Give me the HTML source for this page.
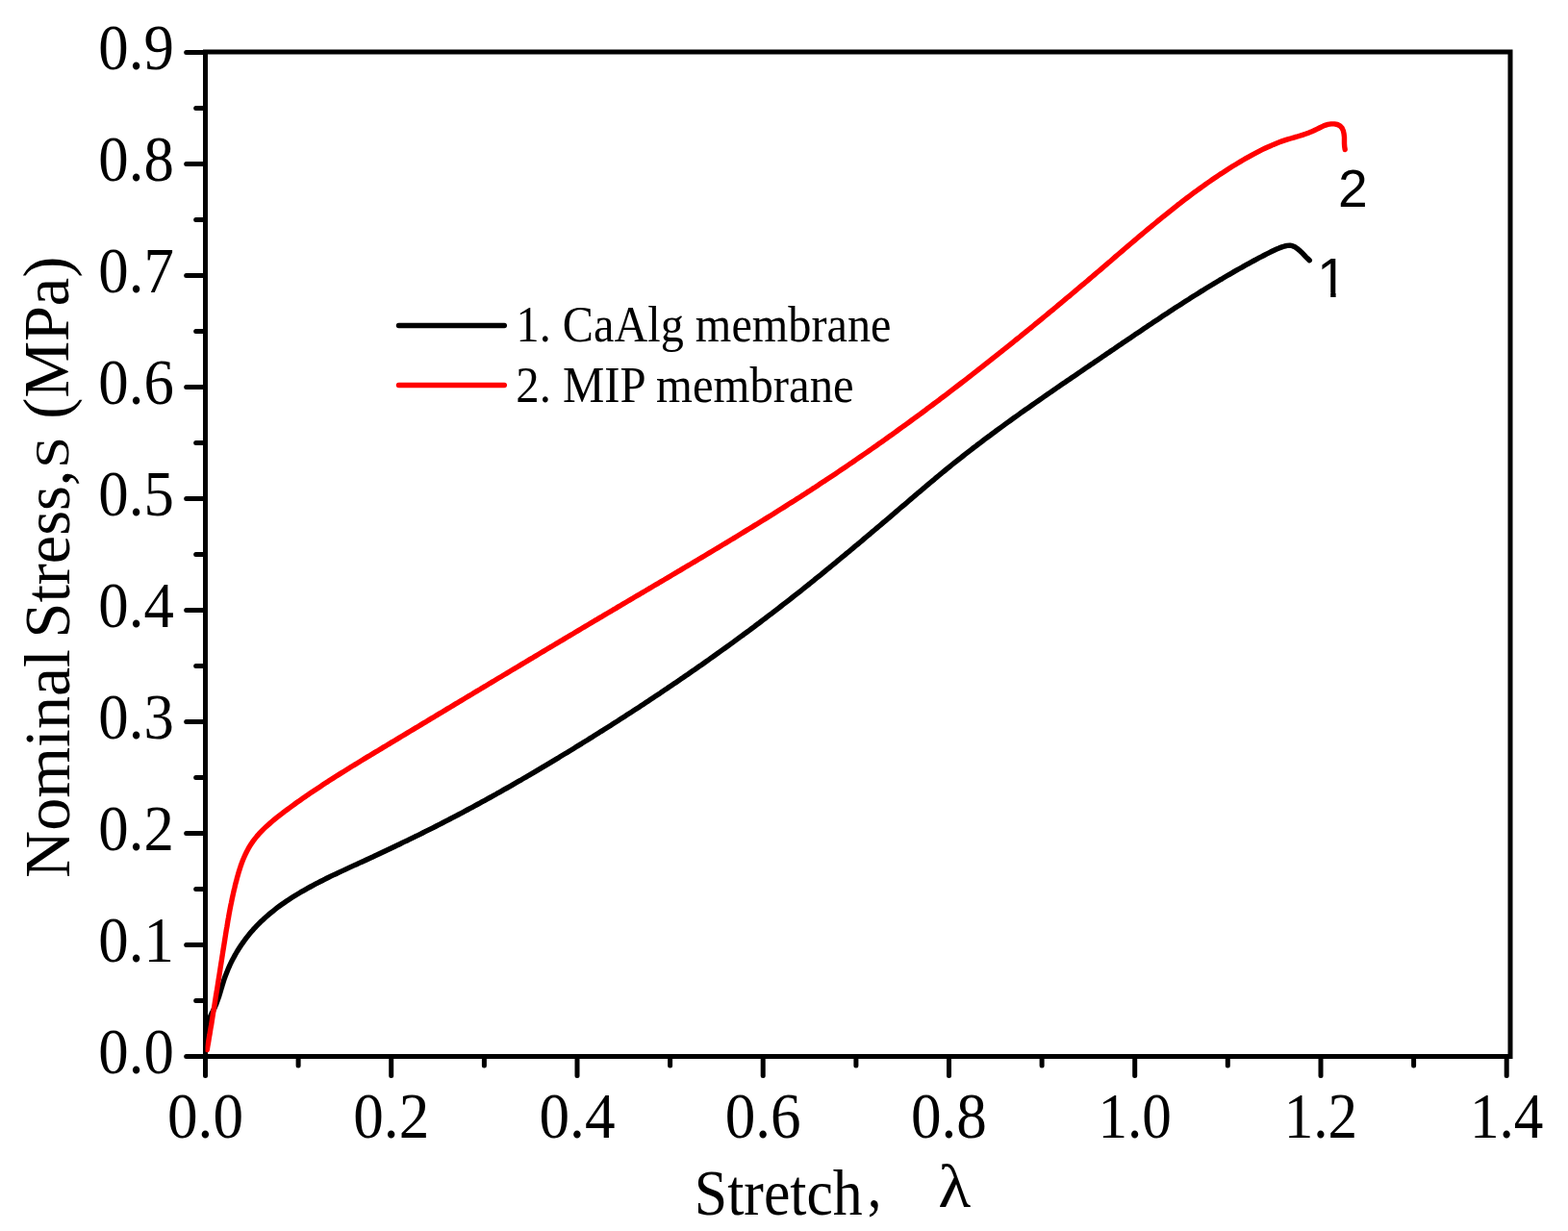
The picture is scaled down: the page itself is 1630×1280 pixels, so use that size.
<!DOCTYPE html>
<html><head><meta charset="utf-8"><style>
html,body{margin:0;padding:0;background:#fff;width:1630px;height:1280px;overflow:hidden}
svg{display:block}
.s{font-family:"Liberation Serif", "Times New Roman", serif;fill:#000}
.ss{font-family:"Liberation Sans", Arial, sans-serif;fill:#000}
</style></head><body>
<svg width="1630" height="1280" viewBox="0 0 1630 1280">
<rect width="1630" height="1280" fill="#fff"/>
<rect x="213.5" y="54.0" width="1356.5" height="1044.5" fill="none" stroke="#000" stroke-width="5.0"/>
<line x1="213.5" y1="1098.5" x2="213.5" y2="1118.5" stroke="#000" stroke-width="5.0" stroke-linecap="round"/>
<line x1="310.1" y1="1098.5" x2="310.1" y2="1108.0" stroke="#000" stroke-width="5.0" stroke-linecap="round"/>
<line x1="406.7" y1="1098.5" x2="406.7" y2="1118.5" stroke="#000" stroke-width="5.0" stroke-linecap="round"/>
<line x1="503.4" y1="1098.5" x2="503.4" y2="1108.0" stroke="#000" stroke-width="5.0" stroke-linecap="round"/>
<line x1="600.0" y1="1098.5" x2="600.0" y2="1118.5" stroke="#000" stroke-width="5.0" stroke-linecap="round"/>
<line x1="696.6" y1="1098.5" x2="696.6" y2="1108.0" stroke="#000" stroke-width="5.0" stroke-linecap="round"/>
<line x1="793.2" y1="1098.5" x2="793.2" y2="1118.5" stroke="#000" stroke-width="5.0" stroke-linecap="round"/>
<line x1="889.9" y1="1098.5" x2="889.9" y2="1108.0" stroke="#000" stroke-width="5.0" stroke-linecap="round"/>
<line x1="986.5" y1="1098.5" x2="986.5" y2="1118.5" stroke="#000" stroke-width="5.0" stroke-linecap="round"/>
<line x1="1083.1" y1="1098.5" x2="1083.1" y2="1108.0" stroke="#000" stroke-width="5.0" stroke-linecap="round"/>
<line x1="1179.7" y1="1098.5" x2="1179.7" y2="1118.5" stroke="#000" stroke-width="5.0" stroke-linecap="round"/>
<line x1="1276.3" y1="1098.5" x2="1276.3" y2="1108.0" stroke="#000" stroke-width="5.0" stroke-linecap="round"/>
<line x1="1373.0" y1="1098.5" x2="1373.0" y2="1118.5" stroke="#000" stroke-width="5.0" stroke-linecap="round"/>
<line x1="1469.6" y1="1098.5" x2="1469.6" y2="1108.0" stroke="#000" stroke-width="5.0" stroke-linecap="round"/>
<line x1="1566.2" y1="1098.5" x2="1566.2" y2="1118.5" stroke="#000" stroke-width="5.0" stroke-linecap="round"/>
<line x1="193.7" y1="1098.4" x2="213.5" y2="1098.4" stroke="#000" stroke-width="5.0" stroke-linecap="round"/>
<line x1="203.7" y1="1040.4" x2="213.5" y2="1040.4" stroke="#000" stroke-width="5.0" stroke-linecap="round"/>
<line x1="193.7" y1="982.4" x2="213.5" y2="982.4" stroke="#000" stroke-width="5.0" stroke-linecap="round"/>
<line x1="203.7" y1="924.4" x2="213.5" y2="924.4" stroke="#000" stroke-width="5.0" stroke-linecap="round"/>
<line x1="193.7" y1="866.4" x2="213.5" y2="866.4" stroke="#000" stroke-width="5.0" stroke-linecap="round"/>
<line x1="203.7" y1="808.4" x2="213.5" y2="808.4" stroke="#000" stroke-width="5.0" stroke-linecap="round"/>
<line x1="193.7" y1="750.4" x2="213.5" y2="750.4" stroke="#000" stroke-width="5.0" stroke-linecap="round"/>
<line x1="203.7" y1="692.4" x2="213.5" y2="692.4" stroke="#000" stroke-width="5.0" stroke-linecap="round"/>
<line x1="193.7" y1="634.4" x2="213.5" y2="634.4" stroke="#000" stroke-width="5.0" stroke-linecap="round"/>
<line x1="203.7" y1="576.4" x2="213.5" y2="576.4" stroke="#000" stroke-width="5.0" stroke-linecap="round"/>
<line x1="193.7" y1="518.4" x2="213.5" y2="518.4" stroke="#000" stroke-width="5.0" stroke-linecap="round"/>
<line x1="203.7" y1="460.4" x2="213.5" y2="460.4" stroke="#000" stroke-width="5.0" stroke-linecap="round"/>
<line x1="193.7" y1="402.4" x2="213.5" y2="402.4" stroke="#000" stroke-width="5.0" stroke-linecap="round"/>
<line x1="203.7" y1="344.4" x2="213.5" y2="344.4" stroke="#000" stroke-width="5.0" stroke-linecap="round"/>
<line x1="193.7" y1="286.4" x2="213.5" y2="286.4" stroke="#000" stroke-width="5.0" stroke-linecap="round"/>
<line x1="203.7" y1="228.4" x2="213.5" y2="228.4" stroke="#000" stroke-width="5.0" stroke-linecap="round"/>
<line x1="193.7" y1="170.4" x2="213.5" y2="170.4" stroke="#000" stroke-width="5.0" stroke-linecap="round"/>
<line x1="203.7" y1="112.4" x2="213.5" y2="112.4" stroke="#000" stroke-width="5.0" stroke-linecap="round"/>
<line x1="193.7" y1="54.4" x2="213.5" y2="54.4" stroke="#000" stroke-width="5.0" stroke-linecap="round"/>
<text transform="translate(180.90,1115.60) scale(0.9200,1)" font-size="68.3" class="s" text-anchor="end">0.0</text>
<text transform="translate(180.90,999.60) scale(0.9200,1)" font-size="68.3" class="s" text-anchor="end">0.1</text>
<text transform="translate(180.90,883.60) scale(0.9200,1)" font-size="68.3" class="s" text-anchor="end">0.2</text>
<text transform="translate(180.90,767.60) scale(0.9200,1)" font-size="68.3" class="s" text-anchor="end">0.3</text>
<text transform="translate(180.90,651.60) scale(0.9200,1)" font-size="68.3" class="s" text-anchor="end">0.4</text>
<text transform="translate(180.90,535.60) scale(0.9200,1)" font-size="68.3" class="s" text-anchor="end">0.5</text>
<text transform="translate(180.90,419.60) scale(0.9200,1)" font-size="68.3" class="s" text-anchor="end">0.6</text>
<text transform="translate(180.90,303.60) scale(0.9200,1)" font-size="68.3" class="s" text-anchor="end">0.7</text>
<text transform="translate(180.90,187.60) scale(0.9200,1)" font-size="68.3" class="s" text-anchor="end">0.8</text>
<text transform="translate(180.90,71.60) scale(0.9200,1)" font-size="68.3" class="s" text-anchor="end">0.9</text>
<text transform="translate(213.50,1183.40) scale(0.9250,1)" font-size="68.3" class="s" text-anchor="middle">0.0</text>
<text transform="translate(406.74,1183.40) scale(0.9250,1)" font-size="68.3" class="s" text-anchor="middle">0.2</text>
<text transform="translate(599.99,1183.40) scale(0.9250,1)" font-size="68.3" class="s" text-anchor="middle">0.4</text>
<text transform="translate(793.23,1183.40) scale(0.9250,1)" font-size="68.3" class="s" text-anchor="middle">0.6</text>
<text transform="translate(986.47,1183.40) scale(0.9250,1)" font-size="68.3" class="s" text-anchor="middle">0.8</text>
<text transform="translate(1179.71,1183.40) scale(0.8950,1)" font-size="68.3" class="s" text-anchor="middle">1.0</text>
<text transform="translate(1372.96,1183.40) scale(0.8950,1)" font-size="68.3" class="s" text-anchor="middle">1.2</text>
<text transform="translate(1566.20,1183.40) scale(0.8950,1)" font-size="68.3" class="s" text-anchor="middle">1.4</text>
<clipPath id="pc"><rect x="213.5" y="40" width="1360" height="1058.5"/></clipPath><g clip-path="url(#pc)">
<path d="M214.0 1090.0L214.4 1087.1L214.6 1084.2L214.8 1081.3L214.9 1078.3L215.0 1075.3L215.1 1072.4L215.3 1069.4L215.7 1066.5L216.2 1063.7L217.0 1060.9L218.0 1058.2L219.2 1055.5L220.6 1052.9L221.9 1050.3L223.2 1047.7L224.4 1045.0L225.4 1042.3L226.4 1039.5L227.4 1036.8L228.3 1034.0L229.1 1031.2L229.9 1028.4L230.8 1025.6L231.6 1022.8L232.5 1020.0L233.4 1017.2L234.4 1014.5L235.5 1011.7L236.6 1009.0L237.7 1006.3L238.9 1003.6L240.2 1000.9L241.5 998.3L242.9 995.7L244.3 993.1L245.8 990.5L247.3 988.0L248.9 985.5L250.5 983.0L252.2 980.6L253.9 978.2L255.6 975.9L257.4 973.6L259.2 971.3L261.1 969.1L263.0 966.9L264.9 964.8L266.9 962.7L268.9 960.7L270.9 958.6L273.0 956.7L275.1 954.7L277.3 952.8L279.4 950.9L281.6 949.1L283.9 947.3L286.1 945.5L288.4 943.7L290.7 942.0L293.1 940.3L295.4 938.7L297.8 937.0L300.2 935.4L302.7 933.8L305.1 932.3L307.6 930.7L310.1 929.2L312.6 927.7L315.1 926.3L317.7 924.8L320.2 923.4L322.8 922.0L325.4 920.6L328.0 919.2L330.6 917.8L333.2 916.5L335.9 915.2L338.5 913.8L341.2 912.5L343.8 911.2L346.5 909.9L349.2 908.7L351.9 907.4L354.6 906.1L357.3 904.9L360.0 903.6L362.6 902.4L365.3 901.1L368.0 899.9L370.7 898.7L373.4 897.4L376.1 896.2L378.8 895.0L381.5 893.7L384.2 892.5L386.9 891.3L389.5 890.0L392.2 888.8L394.9 887.5L397.5 886.3L400.2 885.0L402.8 883.8L405.5 882.5L408.1 881.3L410.8 880.0L413.4 878.7L416.0 877.5L418.6 876.2L421.3 874.9L423.9 873.7L426.5 872.4L429.1 871.1L431.7 869.8L434.3 868.6L436.9 867.3L439.5 866.0L442.1 864.7L444.7 863.4L447.3 862.1L449.9 860.8L452.5 859.5L455.1 858.1L457.7 856.8L460.3 855.5L462.8 854.2L465.4 852.8L468.0 851.5L470.6 850.2L473.1 848.8L475.7 847.5L478.3 846.1L480.8 844.8L483.4 843.4L486.0 842.0L488.5 840.7L491.1 839.3L493.6 837.9L496.2 836.5L498.8 835.1L501.3 833.7L503.9 832.3L506.4 830.9L509.0 829.5L511.5 828.1L514.1 826.7L516.6 825.2L519.2 823.8L521.7 822.4L524.2 820.9L526.8 819.5L529.3 818.1L531.9 816.6L534.4 815.1L536.9 813.7L539.5 812.2L542.0 810.8L544.5 809.3L547.1 807.8L549.6 806.3L552.1 804.9L554.7 803.4L557.2 801.9L559.7 800.4L562.2 798.9L564.7 797.4L567.3 795.9L569.8 794.4L572.3 792.9L574.8 791.4L577.3 789.9L579.8 788.4L582.3 786.8L584.8 785.3L587.3 783.8L589.9 782.3L592.4 780.7L594.9 779.2L597.3 777.7L599.8 776.1L602.3 774.6L604.8 773.1L607.3 771.5L609.8 770.0L612.3 768.4L614.8 766.9L617.3 765.3L619.7 763.8L622.2 762.2L624.7 760.6L627.2 759.1L629.7 757.5L632.1 756.0L634.6 754.4L637.1 752.8L639.5 751.2L642.0 749.7L644.5 748.1L646.9 746.5L649.4 744.9L651.8 743.3L654.3 741.7L656.7 740.2L659.2 738.6L661.6 737.0L664.1 735.4L666.5 733.8L669.0 732.2L671.4 730.6L673.9 728.9L676.3 727.3L678.7 725.7L681.2 724.1L683.6 722.5L686.0 720.9L688.4 719.2L690.9 717.6L693.3 716.0L695.7 714.3L698.1 712.7L700.5 711.1L703.0 709.4L705.4 707.8L707.8 706.1L710.2 704.5L712.6 702.8L715.0 701.2L717.4 699.5L719.8 697.8L722.2 696.2L724.6 694.5L727.0 692.8L729.4 691.2L731.8 689.5L734.2 687.8L736.6 686.1L738.9 684.4L741.3 682.7L743.7 681.0L746.1 679.3L748.4 677.6L750.8 675.9L753.2 674.2L755.6 672.5L757.9 670.8L760.3 669.1L762.7 667.4L765.0 665.7L767.4 663.9L769.7 662.2L772.1 660.5L774.4 658.7L776.8 657.0L779.1 655.3L781.5 653.5L783.8 651.8L786.1 650.0L788.5 648.3L790.8 646.5L793.2 644.7L795.5 643.0L797.8 641.2L800.1 639.4L802.5 637.7L804.8 635.9L807.1 634.1L809.4 632.3L811.7 630.5L814.0 628.7L816.4 626.9L818.7 625.1L821.0 623.3L823.3 621.5L825.6 619.7L827.9 617.9L830.2 616.1L832.5 614.3L834.7 612.5L837.0 610.6L839.3 608.8L841.6 607.0L843.9 605.1L846.2 603.3L848.4 601.4L850.7 599.6L853.0 597.8L855.3 595.9L857.5 594.1L859.8 592.2L862.1 590.4L864.3 588.5L866.6 586.6L868.9 584.8L871.1 582.9L873.4 581.0L875.6 579.2L877.9 577.3L880.1 575.4L882.4 573.6L884.6 571.7L886.9 569.8L889.1 567.9L891.4 566.1L893.6 564.2L895.9 562.3L898.1 560.4L900.3 558.5L902.6 556.6L904.8 554.8L907.0 552.9L909.3 551.0L911.5 549.1L913.7 547.2L916.0 545.3L918.2 543.4L920.4 541.6L922.6 539.7L924.9 537.8L927.1 535.9L929.3 534.0L931.5 532.1L933.7 530.2L935.9 528.3L938.2 526.4L940.4 524.6L942.6 522.7L944.8 520.8L947.0 518.9L949.2 517.0L951.4 515.1L953.6 513.2L955.9 511.4L958.1 509.5L960.3 507.6L962.5 505.7L964.7 503.9L966.9 502.0L969.2 500.1L971.4 498.3L973.6 496.4L975.9 494.5L978.1 492.7L980.3 490.8L982.6 489.0L984.8 487.2L987.1 485.3L989.3 483.5L991.6 481.7L993.9 479.9L996.1 478.1L998.4 476.3L1000.7 474.5L1003.0 472.7L1005.3 470.9L1007.6 469.1L1009.9 467.3L1012.2 465.5L1014.5 463.8L1016.8 462.0L1019.1 460.3L1021.5 458.5L1023.8 456.7L1026.1 455.0L1028.5 453.3L1030.8 451.5L1033.2 449.8L1035.5 448.0L1037.9 446.3L1040.2 444.6L1042.6 442.9L1044.9 441.2L1047.3 439.4L1049.7 437.7L1052.0 436.0L1054.4 434.3L1056.8 432.6L1059.2 430.9L1061.5 429.2L1063.9 427.5L1066.3 425.8L1068.7 424.2L1071.1 422.5L1073.5 420.8L1075.9 419.1L1078.3 417.4L1080.7 415.8L1083.1 414.1L1085.5 412.4L1087.9 410.7L1090.3 409.1L1092.7 407.4L1095.1 405.8L1097.5 404.1L1099.9 402.4L1102.3 400.8L1104.8 399.1L1107.2 397.5L1109.6 395.8L1112.0 394.2L1114.4 392.5L1116.8 390.9L1119.3 389.2L1121.7 387.6L1124.1 385.9L1126.5 384.3L1128.9 382.6L1131.4 381.0L1133.8 379.3L1136.2 377.7L1138.6 376.0L1141.0 374.4L1143.5 372.8L1145.9 371.1L1148.3 369.5L1150.7 367.8L1153.1 366.2L1155.5 364.5L1158.0 362.9L1160.4 361.2L1162.8 359.6L1165.2 358.0L1167.6 356.3L1170.0 354.7L1172.5 353.0L1174.9 351.4L1177.3 349.8L1179.7 348.1L1182.1 346.5L1184.5 344.9L1187.0 343.2L1189.4 341.6L1191.8 340.0L1194.2 338.3L1196.7 336.7L1199.1 335.1L1201.5 333.5L1203.9 331.9L1206.4 330.2L1208.8 328.6L1211.2 327.0L1213.7 325.4L1216.1 323.8L1218.5 322.2L1221.0 320.6L1223.4 319.0L1225.9 317.5L1228.3 315.9L1230.8 314.3L1233.2 312.7L1235.7 311.2L1238.2 309.6L1240.6 308.0L1243.1 306.5L1245.6 304.9L1248.0 303.4L1250.5 301.9L1253.0 300.3L1255.5 298.8L1258.0 297.3L1260.5 295.8L1263.0 294.2L1265.5 292.7L1268.0 291.2L1270.5 289.8L1273.0 288.3L1275.5 286.8L1278.1 285.3L1280.6 283.9L1283.1 282.4L1285.7 280.9L1288.2 279.5L1290.8 278.1L1293.3 276.6L1295.9 275.2L1298.4 273.8L1301.0 272.4L1303.6 271.0L1306.2 269.6L1308.8 268.2L1311.4 266.9L1314.0 265.5L1316.6 264.1L1319.2 262.8L1321.8 261.5L1324.5 260.2L1327.1 259.0L1329.8 257.9L1332.6 256.9L1335.4 256.0L1338.1 255.4L1340.9 255.2L1343.5 255.7L1346.1 256.8L1348.5 258.4L1350.8 260.3L1353.1 262.4L1355.2 264.6L1357.3 266.8L1359.3 268.8L1361.3 270.7" fill="none" stroke="#000" stroke-width="5.4" stroke-linejoin="round" stroke-linecap="round"/>
<path d="M215.3 1091.5L215.8 1088.3L216.4 1085.1L216.9 1082.0L217.4 1078.8L218.0 1075.6L218.5 1072.4L219.0 1069.2L219.6 1066.0L220.1 1062.8L220.6 1059.6L221.1 1056.4L221.6 1053.2L222.2 1050.0L222.7 1046.8L223.2 1043.6L223.7 1040.4L224.2 1037.2L224.7 1034.0L225.3 1030.8L225.8 1027.6L226.3 1024.4L226.8 1021.2L227.3 1018.0L227.8 1014.8L228.3 1011.6L228.8 1008.4L229.3 1005.2L229.8 1002.0L230.3 998.8L230.8 995.6L231.3 992.4L231.8 989.2L232.3 986.0L232.8 982.8L233.3 979.7L233.8 976.5L234.3 973.3L234.8 970.1L235.3 967.0L235.9 963.8L236.4 960.7L236.9 957.5L237.5 954.3L238.0 951.2L238.6 948.0L239.2 944.8L239.8 941.7L240.5 938.5L241.1 935.4L241.8 932.2L242.5 929.0L243.2 925.8L244.0 922.7L244.7 919.5L245.6 916.3L246.4 913.1L247.3 909.9L248.2 906.8L249.2 903.6L250.2 900.5L251.3 897.4L252.5 894.3L253.8 891.3L255.1 888.4L256.5 885.5L258.0 882.7L259.6 879.9L261.3 877.2L263.1 874.6L265.0 872.1L267.0 869.6L269.1 867.2L271.3 864.9L273.5 862.6L275.8 860.4L278.2 858.2L280.6 856.1L283.0 854.0L285.5 851.9L288.0 849.9L290.6 847.9L293.2 845.9L295.7 843.9L298.3 842.0L300.9 840.1L303.6 838.1L306.2 836.2L308.8 834.3L311.5 832.5L314.1 830.6L316.8 828.8L319.4 826.9L322.1 825.1L324.8 823.3L327.5 821.5L330.2 819.7L332.9 817.9L335.6 816.1L338.3 814.3L341.0 812.6L343.7 810.8L346.4 809.1L349.2 807.3L351.9 805.6L354.6 803.9L357.4 802.2L360.1 800.5L362.9 798.7L365.6 797.0L368.4 795.4L371.1 793.7L373.9 792.0L376.7 790.3L379.4 788.6L382.2 786.9L385.0 785.3L387.7 783.6L390.5 781.9L393.3 780.3L396.1 778.6L398.8 776.9L401.6 775.3L404.4 773.6L407.1 771.9L409.9 770.3L412.7 768.6L415.5 766.9L418.2 765.3L421.0 763.6L423.8 761.9L426.5 760.3L429.3 758.6L432.1 756.9L434.9 755.3L437.6 753.6L440.4 751.9L443.2 750.3L445.9 748.6L448.7 746.9L451.5 745.3L454.2 743.6L457.0 741.9L459.8 740.3L462.6 738.6L465.3 736.9L468.1 735.3L470.9 733.6L473.6 731.9L476.4 730.3L479.2 728.6L481.9 727.0L484.7 725.3L487.5 723.6L490.3 722.0L493.0 720.3L495.8 718.6L498.6 717.0L501.3 715.3L504.1 713.7L506.9 712.0L509.6 710.3L512.4 708.7L515.2 707.0L518.0 705.3L520.7 703.7L523.5 702.0L526.3 700.4L529.0 698.7L531.8 697.0L534.6 695.4L537.4 693.7L540.1 692.1L542.9 690.4L545.7 688.7L548.4 687.1L551.2 685.4L554.0 683.8L556.8 682.1L559.5 680.5L562.3 678.8L565.1 677.1L567.8 675.5L570.6 673.8L573.4 672.2L576.2 670.5L578.9 668.9L581.7 667.2L584.5 665.6L587.3 663.9L590.0 662.3L592.8 660.6L595.6 659.0L598.4 657.3L601.2 655.6L603.9 654.0L606.7 652.3L609.5 650.7L612.3 649.0L615.0 647.4L617.8 645.7L620.6 644.1L623.4 642.4L626.2 640.8L628.9 639.1L631.7 637.5L634.5 635.9L637.3 634.2L640.1 632.6L642.8 630.9L645.6 629.3L648.4 627.6L651.2 626.0L654.0 624.3L656.8 622.7L659.5 621.0L662.3 619.4L665.1 617.8L667.9 616.1L670.7 614.5L673.5 612.8L676.3 611.2L679.0 609.5L681.8 607.9L684.6 606.3L687.4 604.6L690.2 603.0L693.0 601.3L695.8 599.7L698.5 598.0L701.3 596.4L704.1 594.7L706.9 593.1L709.7 591.4L712.4 589.8L715.2 588.1L718.0 586.5L720.8 584.8L723.6 583.2L726.3 581.5L729.1 579.9L731.9 578.2L734.7 576.5L737.4 574.9L740.2 573.2L743.0 571.5L745.8 569.9L748.5 568.2L751.3 566.5L754.1 564.9L756.8 563.2L759.6 561.5L762.4 559.9L765.1 558.2L767.9 556.5L770.7 554.8L773.4 553.1L776.2 551.4L778.9 549.8L781.7 548.1L784.4 546.4L787.2 544.7L789.9 543.0L792.7 541.3L795.4 539.6L798.2 537.9L800.9 536.2L803.7 534.5L806.4 532.7L809.1 531.0L811.9 529.3L814.6 527.6L817.3 525.9L820.1 524.1L822.8 522.4L825.5 520.7L828.2 518.9L831.0 517.2L833.7 515.4L836.4 513.7L839.1 511.9L841.8 510.2L844.5 508.4L847.2 506.7L849.9 504.9L852.6 503.1L855.3 501.3L858.0 499.6L860.7 497.8L863.4 496.0L866.1 494.2L868.8 492.4L871.4 490.6L874.1 488.8L876.8 487.0L879.5 485.2L882.1 483.4L884.8 481.6L887.5 479.7L890.1 477.9L892.8 476.1L895.4 474.3L898.1 472.4L900.7 470.6L903.4 468.7L906.0 466.9L908.7 465.0L911.3 463.2L913.9 461.3L916.6 459.5L919.2 457.6L921.8 455.7L924.5 453.8L927.1 452.0L929.7 450.1L932.3 448.2L934.9 446.3L937.5 444.4L940.2 442.5L942.8 440.6L945.4 438.7L948.0 436.8L950.6 434.9L953.2 433.0L955.8 431.1L958.4 429.2L961.0 427.3L963.5 425.3L966.1 423.4L968.7 421.5L971.3 419.5L973.9 417.6L976.5 415.7L979.0 413.7L981.6 411.8L984.2 409.8L986.7 407.9L989.3 405.9L991.9 403.9L994.4 402.0L997.0 400.0L999.6 398.0L1002.1 396.1L1004.7 394.1L1007.2 392.1L1009.8 390.1L1012.3 388.2L1014.9 386.2L1017.4 384.2L1020.0 382.2L1022.5 380.2L1025.0 378.2L1027.6 376.2L1030.1 374.2L1032.6 372.2L1035.2 370.2L1037.7 368.2L1040.2 366.2L1042.7 364.1L1045.3 362.1L1047.8 360.1L1050.3 358.1L1052.8 356.1L1055.3 354.0L1057.9 352.0L1060.4 350.0L1062.9 347.9L1065.4 345.9L1067.9 343.9L1070.4 341.8L1072.9 339.8L1075.4 337.7L1077.9 335.7L1080.4 333.6L1082.9 331.6L1085.4 329.5L1087.9 327.5L1090.4 325.4L1092.9 323.3L1095.4 321.3L1097.9 319.2L1100.3 317.1L1102.8 315.1L1105.3 313.0L1107.8 310.9L1110.3 308.8L1112.8 306.8L1115.2 304.7L1117.7 302.6L1120.2 300.5L1122.7 298.4L1125.1 296.3L1127.6 294.3L1130.1 292.2L1132.5 290.1L1135.0 288.0L1137.5 285.9L1139.9 283.8L1142.4 281.7L1144.9 279.6L1147.3 277.5L1149.8 275.4L1152.2 273.3L1154.7 271.2L1157.2 269.0L1159.6 266.9L1162.1 264.8L1164.5 262.7L1167.0 260.6L1169.4 258.5L1171.9 256.4L1174.4 254.3L1176.8 252.2L1179.3 250.1L1181.8 248.0L1184.2 245.9L1186.7 243.9L1189.2 241.8L1191.6 239.7L1194.1 237.6L1196.6 235.6L1199.1 233.5L1201.6 231.5L1204.1 229.4L1206.6 227.4L1209.1 225.3L1211.6 223.3L1214.1 221.3L1216.6 219.3L1219.1 217.3L1221.6 215.3L1224.1 213.3L1226.7 211.4L1229.2 209.4L1231.8 207.4L1234.3 205.5L1236.9 203.6L1239.4 201.7L1242.0 199.7L1244.6 197.9L1247.2 196.0L1249.8 194.1L1252.4 192.3L1255.0 190.4L1257.6 188.6L1260.2 186.8L1262.8 185.0L1265.5 183.2L1268.1 181.4L1270.8 179.7L1273.5 177.9L1276.1 176.2L1278.8 174.5L1281.5 172.8L1284.2 171.2L1287.0 169.5L1289.7 167.9L1292.4 166.3L1295.2 164.7L1298.0 163.1L1300.7 161.6L1303.5 160.1L1306.3 158.6L1309.2 157.1L1312.0 155.7L1314.9 154.3L1317.7 153.0L1320.7 151.7L1323.6 150.4L1326.5 149.2L1329.5 148.0L1332.5 146.9L1335.5 145.9L1338.6 144.9L1341.7 144.0L1344.8 143.1L1347.9 142.2L1351.0 141.2L1354.0 140.3L1357.1 139.3L1360.1 138.2L1363.0 137.1L1365.9 135.8L1368.8 134.4L1371.6 133.0L1374.4 131.6L1377.3 130.3L1380.4 129.4L1383.8 128.9L1387.1 128.9L1390.3 129.5L1393.0 130.9L1395.1 133.1L1396.4 136.0L1397.1 139.3L1397.5 142.7L1397.5 145.9L1397.5 149.1L1397.7 152.3L1398.2 155.5" fill="none" stroke="#ff0000" stroke-width="5.4" stroke-linejoin="round" stroke-linecap="round"/>
</g>
<line x1="414.5" y1="338.5" x2="524.3" y2="338.5" stroke="#000" stroke-width="5.4" stroke-linecap="round"/>
<line x1="414.5" y1="400.5" x2="524.3" y2="400.5" stroke="#ff0000" stroke-width="5.4" stroke-linecap="round"/>
<text transform="translate(536.55,354.80) scale(0.9320,1)" font-size="51.8" class="s">1. CaAlg membrane</text>
<text transform="translate(536.26,418.00) scale(0.9410,1)" font-size="51.8" class="s">2. MIP membrane</text>
<text transform="translate(1390.99,214.80) scale(1.0000,1)" font-size="55.2" class="ss">2</text>
<clipPath id="c1"><rect x="1360" y="255" width="40" height="49.0"/><rect x="1383.2" y="255" width="5.4" height="60"/></clipPath>
<g clip-path="url(#c1)"><text transform="translate(1369.10,309.00) scale(1.0000,1)" font-size="56.7" class="ss">1</text></g>
<text transform="translate(721.81,1263.40) scale(0.9150,1)" font-size="67.5" class="s">Stretch</text>
<text transform="translate(901.87,1255.30) scale(0.8700,1)" font-size="67.5" class="s">,</text>
<text transform="translate(975.18,1254.90) scale(1.1200,1)" font-size="62.5" class="s">λ</text>
<text transform="translate(71.50,912.97) rotate(-90) scale(1.0000,1)" font-size="68" class="s">Nominal</text>
<text transform="translate(71.50,663.44) rotate(-90) scale(0.9740,1)" font-size="68" class="s">Stress,</text>
<text transform="translate(71.00,486.84) rotate(-90) scale(1.1550,1)" font-size="50.9" class="s">S</text>
<text transform="translate(71.30,435.81) rotate(-90) scale(0.9730,1)" font-size="68" class="s">(MPa)</text>
</svg>
</body></html>
